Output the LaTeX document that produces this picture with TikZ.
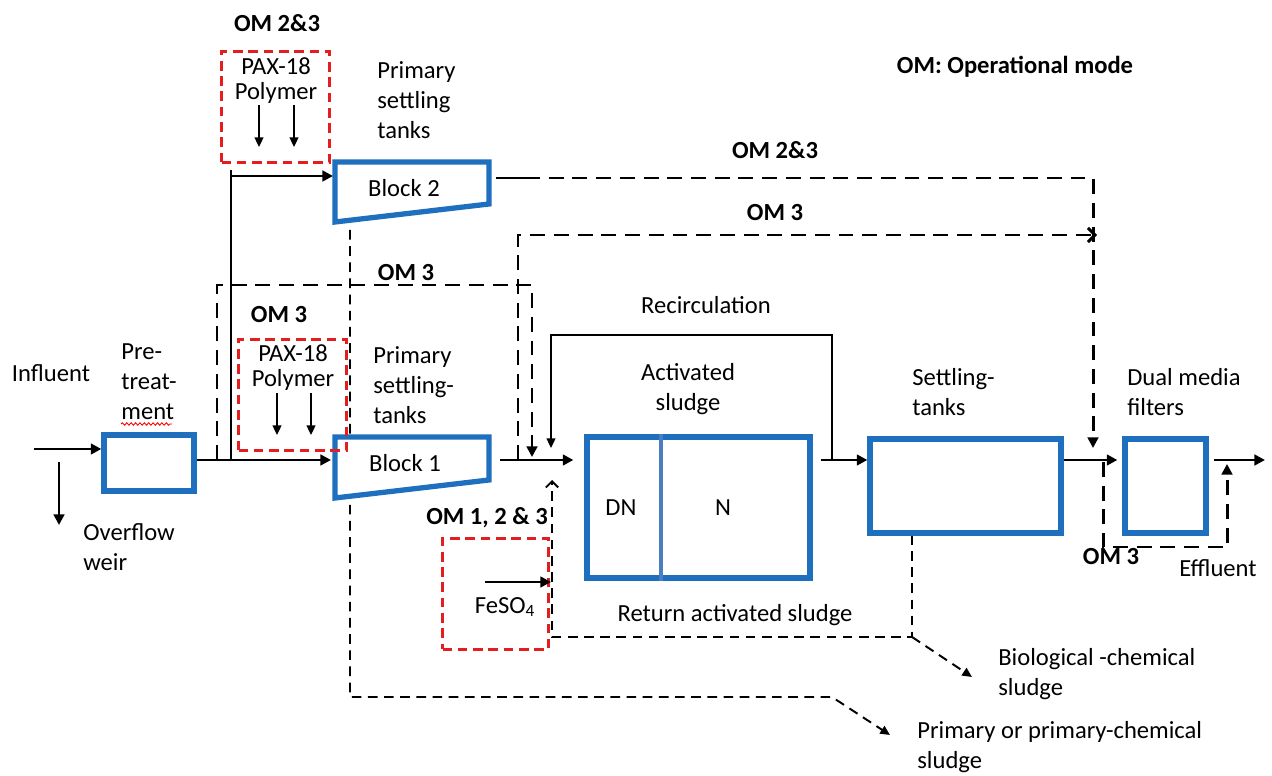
\documentclass[tikz,border=0pt]{standalone}
\usepackage{fontspec}
\setmainfont{Carlito}
\usetikzlibrary{arrows.meta,decorations.pathmorphing}
\definecolor{tankblue}{HTML}{1F6FBF}
\definecolor{zoneblue}{HTML}{4A7EC0}
\definecolor{dosered}{HTML}{E41E1E}

\begin{document}
\begin{tikzpicture}[x=0.02cm, y=-0.02cm,
    every node/.style={font=\fontsize{14}{17}\selectfont, inner sep=0pt},
    om/.style={font=\fontsize{14}{17}\selectfont\bfseries},
    lbl/.style={align=left, anchor=west},
    chem/.style={align=center, font=\fontsize{14}{14.2}\selectfont},
    tank/.style={draw=tankblue, line width=3pt, fill=white},
    dosing/.style={draw=dosered, line width=2pt, dash pattern=on 5.5pt off 3.2pt,
                   minimum width=2.16cm, minimum height=2.22cm},
    pipe/.style={line width=1.7pt},
    flow/.style={line width=1.7pt, -{Triangle[length=6pt,width=6pt]}},
    bypass/.style={line width=1.7pt, dash pattern=on 8.5pt off 5pt,
                   -{Triangle[length=6pt,width=6pt]}},
    sludge/.style={line width=1.1pt, dash pattern=on 5.5pt off 3.7pt,
                   -{Triangle[length=5.5pt,width=5pt]}},
    dose/.style={line width=1.1pt, -{Triangle[length=5.5pt,width=5pt]}}]
  \useasboundingbox (0,0) rectangle (1272,776);

  % junctions and free ends
  \coordinate (inf) at (34,449);
  \coordinate (ovf) at (59,462);
  \coordinate (ovfend) at (59,525);
  \coordinate (rawby) at (217,460);
  \coordinate (split) at (231,460);
  \coordinate (splittop) at (231,170);
  \coordinate (b2in) at (333,176);
  \coordinate (b2out) at (496,178);
  \coordinate (b1in) at (331,460);
  \coordinate (b1out) at (500,460);
  \coordinate (peby) at (518,460);
  \coordinate (asfeed) at (532,457);
  \coordinate (asret) at (551,448);
  \coordinate (asrasin) at (552,480);
  \coordinate (recirc) at (832,460);
  \coordinate (dmfin) at (1093,448);
  \coordinate (dmfby) at (1097,235);
  \coordinate (filtby) at (1103,462);
  \coordinate (filtret) at (1227,464);
  \coordinate (eff) at (1265,460);
  \coordinate (secsl) at (912,535);
  \coordinate (rascorner) at (912,637);
  \coordinate (biosl) at (972,677);
  \coordinate (prisl) at (350,230);
  \coordinate (prislend) at (890,735);

  % bypass and sludge lines (behind the tanks)
  \draw[bypass] (rawby) -- (217,285) -- (532,285) -- (asfeed);
  \draw[bypass, -{Straight Barb[length=4pt,width=8pt]}] (peby) |- (dmfby);
  \draw[pipe] (b2out) -- ++(29,0) coordinate (b2dash);
  \draw[bypass] (b2dash) -| (dmfin);
  \draw[bypass] (filtby) -- (1103,547) -- (1227,547) -- (filtret);
  \draw[sludge] (prisl) -- (350,697) -- (832,697) -- (prislend);
  \draw[sludge, -{Straight Barb[length=3.5pt,width=7pt]}] (secsl) -- (rascorner) -- (552,637) -- (asrasin);
  \draw[sludge] (rascorner) -- (biosl);

  % tanks
  \node[tank, minimum width=1.8cm, minimum height=1.12cm] (pre) at (149,463) {};
  \node[tank, minimum width=4.46cm, minimum height=2.82cm] (as) at (698.5,507.5) {};
  \node[tank, minimum width=3.82cm, minimum height=1.88cm] (sec) at (965.5,486) {};
  \node[tank, minimum width=1.62cm, minimum height=1.88cm] (dmf) at (1165.5,486) {};
  \draw[tank] (335,162) -- (489,162) -- (489,204) -- (335,222) -- cycle;
  \draw[tank] (335,437) -- (489,437) -- (489,480) -- (335,498) -- cycle;
  \draw[zoneblue, line width=2pt] ([xshift=-0.75cm]as.north) -- ([xshift=-0.75cm]as.south);

  % main flow
  \draw[flow] (inf) -- (inf -| pre.west);
  \draw[flow] (ovf) -- (ovfend);
  \draw[flow] (pre.east |- b1in) -- (b1in);
  \draw[pipe] (split) -- (splittop);
  \draw[flow] (splittop |- b2in) -- (b2in);
  \draw[flow] (b1out) -- ([xshift=-0.22cm]as.west |- b1out);
  \draw[line width=1.1pt, -{Triangle[length=5.5pt,width=5pt]}] (recirc) -- (832,335) -- (551,335) -- (asret);
  \draw[flow] ([xshift=0.16cm]as.east |- b1out) -- (sec.west |- b1out);
  \draw[flow] (sec.east |- b1out) -- ([xshift=-0.1cm]dmf.west |- b1out);
  \draw[flow] ([xshift=0.1cm]dmf.east |- b1out) -- (eff);

  % chemical dosing
  \node[dosing] (doseA) at (275.5,107) {};
  \node[dosing] (doseB) at (292.5,395) {};
  \node[dosing, minimum width=2.12cm] (doseC) at (495.5,594) {};
  \foreach \x in {259,294}
    \draw[dose] (\x,105) -- (\x,147);
  \foreach \x in {277,311}
    \draw[dose] (\x,393) -- (\x,435);
  \draw[flow, line width=1.4pt] (485,582) -- (551,582);

  % labels
  \node[om] (omA) at (277,23) {OM 2\&3};
  \node[om] (omkey) at (1015,67) {OM: Operational mode};
  \node[chem] (chemA) at (276,81) {PAX-18\\Polymer};
  \node[lbl] (pstA) at (377,100) {Primary\\settling\\tanks};
  \node (blk2) at (404,188) {Block 2};
  \node[om] (omtop) at (775,150) {OM 2\&3};
  \node[om] (omfil) at (775,213) {OM 3};
  \node[om] (omraw) at (406,273) {OM 3};
  \node (rec) at (706,305) {Recirculation};
  \node[om] (omB) at (279,315) {OM 3};
  \node[chem] (chemB) at (293,368) {PAX-18\\Polymer};
  \node (inftxt) at (51,373) {Influent};
  \node[lbl] (pretxt) at (121,382) {Pre-\\treat-\\ment};
  \draw[red, line width=0.5pt, decorate,
        decoration={snake, amplitude=0.7pt, segment length=2.5pt}] (121,424) -- (172,424);
  \node[lbl] (pstB) at (373,385) {Primary\\settling-\\tanks};
  \node[align=center] (astxt) at (688,389) {Activated\\sludge};
  \node[lbl] (sectxt) at (912,392) {Settling-\\tanks};
  \node[lbl] (dmftxt) at (1127,392) {Dual media\\filters};
  \node (blk1) at (405,463) {Block 1};
  \node (dn) at (621,508) {DN};
  \node (nit) at (723,508) {N};
  \node[om] (omC) at (487,518) {OM 1, 2 \& 3};
  \node[lbl] (ovftxt) at (83,547) {Overflow\\weir};
  \node[om] (omdmf) at (1111,557) {OM 3};
  \node (efftxt) at (1218,568) {Effluent};
  \node (fetxt) at (505,607) {FeSO\textsubscript{4}};
  \node (rastxt) at (735,615) {Return activated sludge};
  \node[lbl] (biotxt) at (998,674) {Biological -chemical\\sludge};
  \node[lbl] (pritxt) at (917,747) {Primary or primary-chemical\\sludge};
\end{tikzpicture}
\end{document}
